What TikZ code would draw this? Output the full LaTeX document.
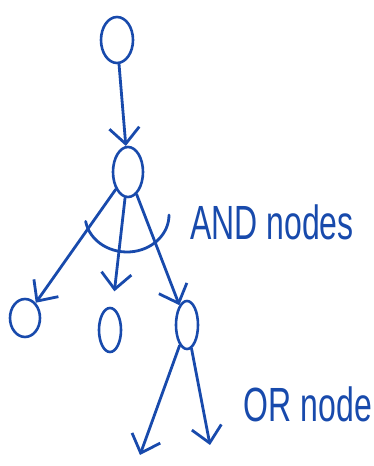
\documentclass[tikz,border=0pt]{standalone}
\usepackage{xcolor}
\definecolor{inkblue}{RGB}{24,74,172}
\usepackage{fontspec}
\setmainfont{Liberation Sans}
\usepackage{tikz}
\usetikzlibrary{arrows.meta,positioning,shapes.geometric}

\begin{document}
\begin{tikzpicture}[->, >={Straight Barb[length=16pt,width=30pt]}, x=1pt, y=1pt]
    \tikzstyle{goal}=[ellipse, draw=inkblue, line width=2.6pt, inner sep=0pt]
    \tikzstyle{link}=[draw=inkblue, line width=2.8pt, line cap=round]
    \tikzstyle{tag}=[text=inkblue, font=\fontsize{32}{32}\selectfont]
    \useasboundingbox (0,0) rectangle (374,466);

    % Goals
    \node[goal, minimum width=32pt, minimum height=46pt] (G0) at (117,426) {};
    \node[goal, minimum width=30pt, minimum height=50pt] (G1) at (128,294) {};
    \node[goal, minimum width=30pt, minimum height=38pt] (G2) at (25,148) {};
    \node[goal, minimum width=22pt, minimum height=44pt] (G3) at (110,136) {};
    \node[goal, minimum width=22pt, minimum height=48pt] (G4) at (187,141) {};
    \coordinate (E1) at (140,11);
    \coordinate (E2) at (210,21);
    \coordinate (AC) at (127,251);

    % Labels
    \node[tag] (andtag) at (272,244) {\scalebox{1}[1.5]{AND nodes}};
    \node[tag] (ortag) at (308,62) {\scalebox{1}[1.5]{OR node}};

    % Links
    \draw[link] (G0) -- (G1);
    \draw[link] (G1) -- (G2);
    \draw[link, shorten >=16pt] (G1) -- (G3);
    \draw[link] (G1) -- (G4);
    \draw[link] (G4) -- (E1);
    \draw[link] (G4) -- (E2);
    \draw[link, -] ([shift={(190:42 and 37)}]AC) arc[start angle=190, end angle=360, x radius=42, y radius=37];
\end{tikzpicture}
\end{document}
